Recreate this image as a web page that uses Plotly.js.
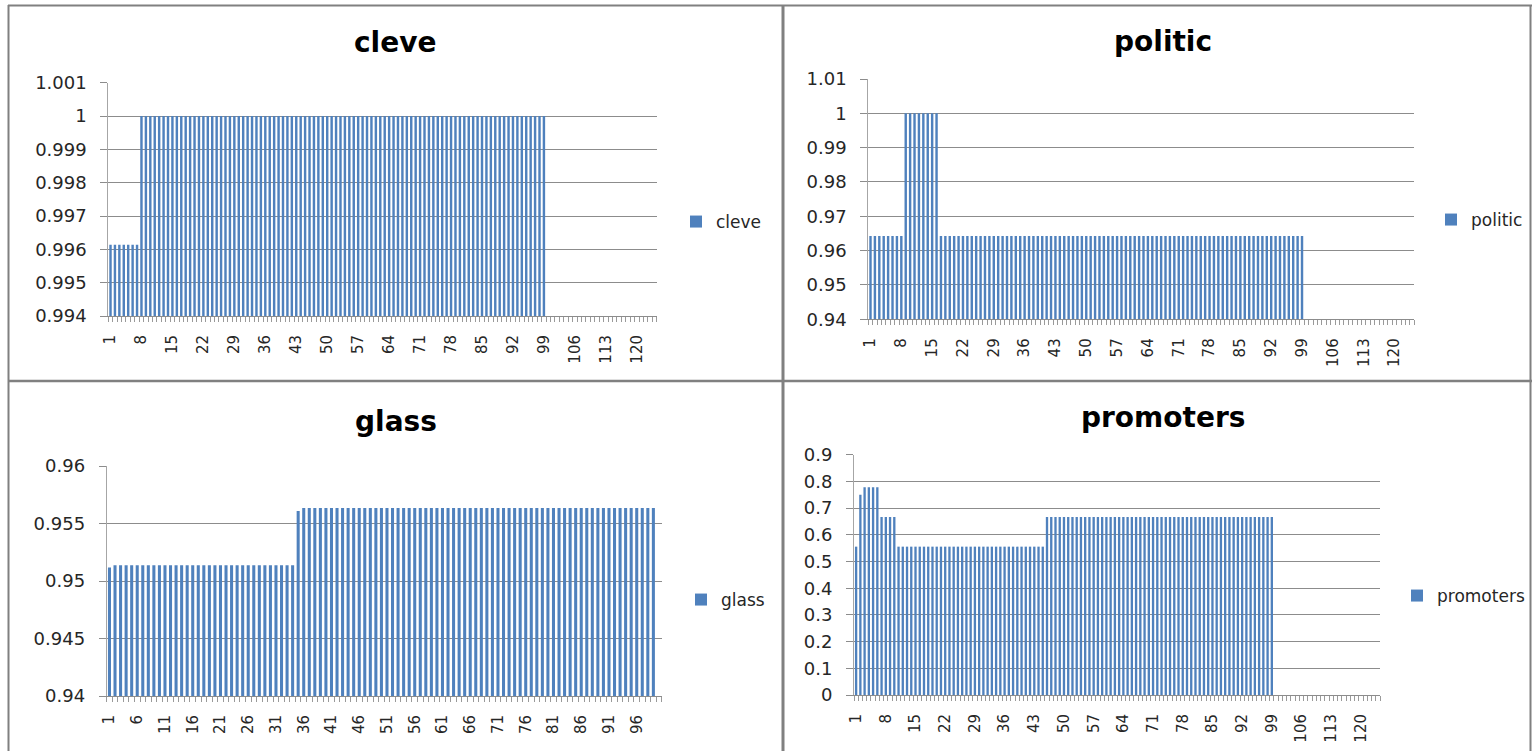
<!DOCTYPE html>
<html>
<head>
<meta charset="utf-8">
<script src="https://cdn.plot.ly/plotly-3.0.1.min.js"></script>
<style>
  html, body { margin: 0; padding: 0; background: #ffffff; }
  #chart { width: 1532px; height: 751px; }
</style>
</head>
<body>
<div id="chart"></div>
<script>
// ---------- data ----------
const categories124 = [
  1,2,3,4,5,6,7,8,9,10,11,12,13,14,15,16,17,18,19,20,
  21,22,23,24,25,26,27,28,29,30,31,32,33,34,35,36,37,38,39,40,
  41,42,43,44,45,46,47,48,49,50,51,52,53,54,55,56,57,58,59,60,
  61,62,63,64,65,66,67,68,69,70,71,72,73,74,75,76,77,78,79,80,
  81,82,83,84,85,86,87,88,89,90,91,92,93,94,95,96,97,98,99,100,
  101,102,103,104,105,106,107,108,109,110,111,112,113,114,115,116,117,118,119,120,
  121,122,123,124
];
const categories100 = [
  1,2,3,4,5,6,7,8,9,10,11,12,13,14,15,16,17,18,19,20,
  21,22,23,24,25,26,27,28,29,30,31,32,33,34,35,36,37,38,39,40,
  41,42,43,44,45,46,47,48,49,50,51,52,53,54,55,56,57,58,59,60,
  61,62,63,64,65,66,67,68,69,70,71,72,73,74,75,76,77,78,79,80,
  81,82,83,84,85,86,87,88,89,90,91,92,93,94,95,96,97,98,99,100
];

const cleveValues = [
  0.99614,0.99614,0.99614,0.99614,0.99614,0.99614,0.99614,
  1,1,1,1,1,1,1,1,1,1,
  1,1,1,1,1,1,1,1,1,1,
  1,1,1,1,1,1,1,1,1,1,
  1,1,1,1,1,1,1,1,1,1,
  1,1,1,1,1,1,1,1,1,1,
  1,1,1,1,1,1,1,1,1,1,
  1,1,1,1,1,1,1,1,1,1,
  1,1,1,1,1,1,1,1,1,1,
  1,1,1,1,1,1,1,1,1,1,
  1,1
];

const politicValues = [
  0.96429,0.96429,0.96429,0.96429,0.96429,0.96429,0.96429,0.96429,
  1,1,1,1,1,1,1,1,
  0.96429,0.96429,0.96429,0.96429,0.96429,0.96429,0.96429,0.96429,0.96429,0.96429,
  0.96429,0.96429,0.96429,0.96429,0.96429,0.96429,0.96429,0.96429,0.96429,0.96429,
  0.96429,0.96429,0.96429,0.96429,0.96429,0.96429,0.96429,0.96429,0.96429,0.96429,
  0.96429,0.96429,0.96429,0.96429,0.96429,0.96429,0.96429,0.96429,0.96429,0.96429,
  0.96429,0.96429,0.96429,0.96429,0.96429,0.96429,0.96429,0.96429,0.96429,0.96429,
  0.96429,0.96429,0.96429,0.96429,0.96429,0.96429,0.96429,0.96429,0.96429,0.96429,
  0.96429,0.96429,0.96429,0.96429,0.96429,0.96429,0.96429,0.96429,0.96429,0.96429,
  0.96429,0.96429,0.96429,0.96429,0.96429,0.96429,0.96429,0.96429,0.96429,0.96429,
  0.96429,0.96429,0.96429
];

const glassValues = [
  0.95117,
  0.95138,0.95138,0.95138,0.95138,0.95138,0.95138,0.95138,0.95138,0.95138,0.95138,
  0.95138,0.95138,0.95138,0.95138,0.95138,0.95138,0.95138,0.95138,0.95138,0.95138,
  0.95138,0.95138,0.95138,0.95138,0.95138,0.95138,0.95138,0.95138,0.95138,0.95138,
  0.95138,0.95138,0.95138,
  0.95608,
  0.95635,0.95635,0.95635,0.95635,0.95635,0.95635,0.95635,0.95635,0.95635,0.95635,
  0.95635,0.95635,0.95635,0.95635,0.95635,0.95635,0.95635,0.95635,0.95635,0.95635,
  0.95635,0.95635,0.95635,0.95635,0.95635,0.95635,0.95635,0.95635,0.95635,0.95635,
  0.95635,0.95635,0.95635,0.95635,0.95635,0.95635,0.95635,0.95635,0.95635,0.95635,
  0.95635,0.95635,0.95635,0.95635,0.95635,0.95635,0.95635,0.95635,0.95635,0.95635,
  0.95635,0.95635,0.95635,0.95635,0.95635,0.95635,0.95635,0.95635,0.95635,0.95635,
  0.95635,0.95635,0.95635,0.95635
];

const promotersValues = [
  0.5556,
  0.75,
  0.7778,0.7778,0.7778,0.7778,
  0.6667,0.6667,0.6667,0.6667,
  0.5556,0.5556,0.5556,0.5556,0.5556,0.5556,0.5556,0.5556,0.5556,0.5556,
  0.5556,0.5556,0.5556,0.5556,0.5556,0.5556,0.5556,0.5556,0.5556,0.5556,
  0.5556,0.5556,0.5556,0.5556,0.5556,0.5556,0.5556,0.5556,0.5556,0.5556,
  0.5556,0.5556,0.5556,0.5556,0.5556,
  0.6667,0.6667,0.6667,0.6667,0.6667,0.6667,0.6667,0.6667,0.6667,0.6667,
  0.6667,0.6667,0.6667,0.6667,0.6667,0.6667,0.6667,0.6667,0.6667,0.6667,
  0.6667,0.6667,0.6667,0.6667,0.6667,0.6667,0.6667,0.6667,0.6667,0.6667,
  0.6667,0.6667,0.6667,0.6667,0.6667,0.6667,0.6667,0.6667,0.6667,0.6667,
  0.6667,0.6667,0.6667,0.6667,0.6667,0.6667,0.6667,0.6667,0.6667,0.6667,
  0.6667,0.6667,0.6667,0.6667
];

const xTicks7 = [1,8,15,22,29,36,43,50,57,64,71,78,85,92,99,106,113,120];
const xTicks5 = [1,6,11,16,21,26,31,36,41,46,51,56,61,66,71,76,81,86,91,96];

const cleveYTicks = [0.994,0.995,0.996,0.997,0.998,0.999,1,1.001];
const cleveYLabels = ["0.994","0.995","0.996","0.997","0.998","0.999","1","1.001"];
const politicYTicks = [0.94,0.95,0.96,0.97,0.98,0.99,1,1.01];
const politicYLabels = ["0.94","0.95","0.96","0.97","0.98","0.99","1","1.01"];
const glassYTicks = [0.94,0.945,0.95,0.955,0.96];
const glassYLabels = ["0.94","0.945","0.95","0.955","0.96"];
const promotersYTicks = [0,0.1,0.2,0.3,0.4,0.5,0.6,0.7,0.8,0.9];
const promotersYLabels = ["0","0.1","0.2","0.3","0.4","0.5","0.6","0.7","0.8","0.9"];

const seriesNames = ["cleve","politic","glass","promoters"];

// ---------- styling / layout ----------
const W = 1532, H = 751;
const BAR_COLOR = '#4F81BD';
const GRID = '#8c8c8c';
const FONT = 'DejaVu Sans, Verdana, sans-serif';
const px = v => v / W;
const py = v => 1 - v / H;

function xAxis(cats, tickvals, domainPx) {
  return {
    domain: [px(domainPx[0]), px(domainPx[1])],
    type: 'linear',
    range: [cats[0] - 0.5, cats[cats.length - 1] + 0.5],
    tickmode: 'array',
    tickvals: tickvals,
    ticktext: tickvals.map(String),
    tickangle: -90,
    tickfont: { family: FONT, size: 15, color: '#262626' },
    ticks: '',
    ticklabelstandoff: 12,
    showgrid: false,
    zeroline: false,
    showline: true,
    linecolor: GRID,
    linewidth: 1,
    minor: { ticks: 'outside', ticklen: 5, tickwidth: 1, tickcolor: '#9a9a9a', dtick: 1, tick0: 0.5, showgrid: false },
    fixedrange: true
  };
}
function yAxis(tickvals, ticktext, domainPx, anchor) {
  const lo = tickvals[0], hi = tickvals[tickvals.length - 1];
  return {
    domain: [py(domainPx[1]), py(domainPx[0])],
    anchor: anchor,
    range: [lo, hi + (hi - lo) * 1e-6],
    tickmode: 'array',
    tickvals: tickvals,
    ticktext: ticktext,
    tickfont: { family: FONT, size: 18, color: '#262626' },
    ticks: 'outside',
    ticklen: 7,
    tickwidth: 1,
    tickcolor: GRID,
    ticklabelstandoff: 10,
    showgrid: true,
    gridcolor: GRID,
    gridwidth: 1,
    zeroline: false,
    showline: true,
    linecolor: '#a6a6a6',
    linewidth: 1,
    fixedrange: true
  };
}

const traces = [
  { type: 'bar', x: categories124.slice(0, cleveValues.length), y: cleveValues, name: seriesNames[0],
    xaxis: 'x', yaxis: 'y', legend: 'legend', marker: { color: BAR_COLOR, line: { width: 0 } } },
  { type: 'bar', x: categories124.slice(0, politicValues.length), y: politicValues, name: seriesNames[1],
    xaxis: 'x2', yaxis: 'y2', legend: 'legend2', marker: { color: BAR_COLOR, line: { width: 0 } } },
  { type: 'bar', x: categories100.slice(0, glassValues.length), y: glassValues, name: seriesNames[2],
    xaxis: 'x3', yaxis: 'y3', legend: 'legend3', marker: { color: BAR_COLOR, line: { width: 0 } } },
  { type: 'bar', x: categories124.slice(0, promotersValues.length), y: promotersValues, name: seriesNames[3],
    xaxis: 'x4', yaxis: 'y4', legend: 'legend4', marker: { color: BAR_COLOR, line: { width: 0 } } }
];
traces.forEach(t => { t.showlegend = true; t.hoverinfo = 'x+y'; });

function legendAt(xPx, yPx) {
  return { x: px(xPx), y: py(yPx), xanchor: 'left', yanchor: 'middle',
           font: { family: FONT, size: 17, color: '#262626' },
           bgcolor: 'rgba(0,0,0,0)', borderwidth: 0 };
}
function titleAt(text, xPx, yPx) {
  return { text: '<b>' + text + '</b>', xref: 'paper', yref: 'paper', x: px(xPx), y: py(yPx),
           xanchor: 'center', yanchor: 'middle', showarrow: false,
           font: { family: FONT, size: 28, color: '#000000' } };
}
function hLine(y, x0, x1, w) {
  return { type: 'line', xref: 'paper', yref: 'paper', x0: px(x0), x1: px(x1), y0: py(y), y1: py(y),
           line: { color: '#808080', width: w } };
}
function vLine(x, y0, y1, w) {
  return { type: 'line', xref: 'paper', yref: 'paper', x0: px(x), x1: px(x), y0: py(y0), y1: py(y1),
           line: { color: '#808080', width: w } };
}

const layout = {
  width: W, height: H,
  margin: { l: 0, r: 0, t: 0, b: 0 },
  paper_bgcolor: '#ffffff', plot_bgcolor: '#ffffff',
  font: { family: FONT, color: '#262626' },
  bargap: 0.45,
  xaxis:  xAxis(categories124, xTicks7, [108.3, 656.7]),
  yaxis:  yAxis(cleveYTicks, cleveYLabels, [82.7, 316], 'x'),
  xaxis2: Object.assign(xAxis(categories124, xTicks7, [868.3, 1414.3]), { anchor: 'y2' }),
  yaxis2: yAxis(politicYTicks, politicYLabels, [79, 319.3], 'x2'),
  xaxis3: Object.assign(xAxis(categories100, xTicks5, [106.7, 661.7]), { anchor: 'y3' }),
  yaxis3: yAxis(glassYTicks, glassYLabels, [466, 696], 'x3'),
  xaxis4: Object.assign(xAxis(categories124, xTicks7, [854, 1380]), { anchor: 'y4' }),
  yaxis4: yAxis(promotersYTicks, promotersYLabels, [454.7, 695], 'x4'),
  legend:  legendAt(676, 222),
  legend2: legendAt(1431, 220),
  legend3: legendAt(681, 600),
  legend4: legendAt(1397, 596),
  annotations: [
    titleAt(seriesNames[0], 395, 43),
    titleAt(seriesNames[1], 1163, 41),
    titleAt(seriesNames[2], 395.5, 422),
    titleAt(seriesNames[3], 1163, 417)
  ],
  shapes: [
    hLine(5.5, 8, 1532, 2),
    hLine(381, 8, 1532, 2.5),
    vLine(8.5, 5, 751, 2),
    vLine(783, 5, 751, 3),
    vLine(1530.5, 5, 751, 2)
  ]
};

Plotly.newPlot('chart', traces, layout, { displayModeBar: false, staticPlot: true });
</script>
</body>
</html>
